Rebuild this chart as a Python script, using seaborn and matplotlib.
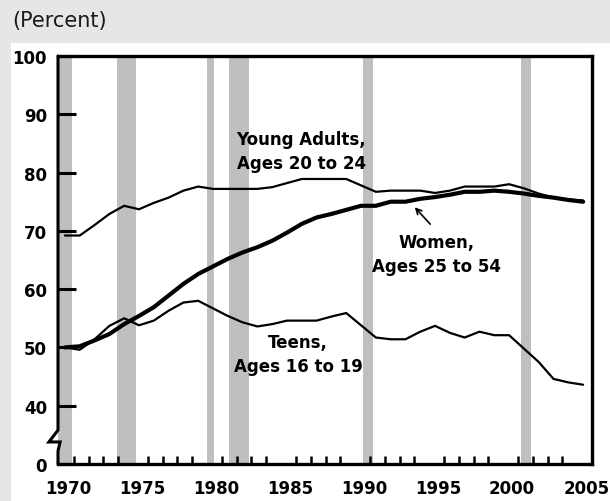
import numpy as np
import pandas as pd
import matplotlib
matplotlib.use('Agg')
import matplotlib.pyplot as plt
import matplotlib.transforms as mtransforms
import seaborn as sns
from matplotlib.patches import Rectangle

# --- datos (porcentaje, promedio anual) ---
years = list(range(1970, 2006))

young_adults = [69.2, 69.2, 71.0, 72.9, 74.3, 73.7, 74.8, 75.7, 76.9, 77.6,
                77.2, 77.2, 77.2, 77.2, 77.5, 78.2, 78.9, 78.9, 78.9, 78.9,
                77.8, 76.7, 76.9, 76.9, 76.9, 76.5, 76.9, 77.6, 77.6, 77.6,
                78.0, 77.3, 76.4, 75.7, 75.4, 75.2]

women = [50.0, 50.2, 51.2, 52.3, 54.0, 55.4, 56.9, 58.9, 60.9, 62.6,
         63.9, 65.2, 66.3, 67.2, 68.3, 69.7, 71.2, 72.3, 72.9, 73.6,
         74.3, 74.3, 75.0, 75.0, 75.5, 75.8, 76.2, 76.7, 76.7, 76.9,
         76.7, 76.4, 76.0, 75.7, 75.3, 75.0]

teens = [50.0, 49.6, 51.4, 53.7, 55.0, 53.8, 54.6, 56.3, 57.7, 58.0,
         56.7, 55.4, 54.3, 53.6, 54.0, 54.6, 54.6, 54.6, 55.3, 55.9,
         53.8, 51.7, 51.4, 51.4, 52.7, 53.7, 52.5, 51.7, 52.7, 52.1,
         52.1, 49.8, 47.5, 44.6, 44.0, 43.6]

# recesiones (inicio, fin)
recessions = [(1969.95, 1970.9), (1973.9, 1975.2), (1980.0, 1980.5),
              (1981.5, 1982.85), (1990.5, 1991.2), (2001.2, 2001.9)]

y_ticks = [30, 40, 50, 60, 70, 80, 90, 100]
y_tick_labels = ['0', '40', '50', '60', '70', '80', '90', '100']
x_ticks = [1970, 1975, 1980, 1985, 1990, 1995, 2000, 2005]

df = pd.DataFrame({
    'Year': years * 3,
    'Rate': young_adults + women + teens,
    'Group': ['young'] * len(years) + ['women'] * len(years) + ['teens'] * len(years),
})
# los puntos anuales se dibujan a mitad de año aprox.
df['X'] = df['Year'] + 0.4

sns.set_style('white')
plt.rcParams['font.family'] = ['DejaVu Sans']
plt.rcParams['text.color'] = 'black'
plt.rcParams['xtick.color'] = 'black'
plt.rcParams['ytick.color'] = 'black'

fig = plt.figure(figsize=(6.1, 5.02), dpi=100, facecolor='#e6e6e6')
fondo = Rectangle((11 / 610, 0), 1 - 11 / 610, 1 - 44 / 502,
                  transform=fig.transFigure, facecolor='white',
                  edgecolor='none', zorder=-10)
fig.add_artist(fondo)
fig.text(12 / 610, 1 - 21 / 502, '(Percent)', fontsize=15, ha='left',
         va='center', color='#1a1a1a')

ax = fig.add_axes([58 / 610, 37 / 502, 534 / 610, 408 / 502])
ax.set_facecolor('white')
ax.set_axisbelow(False)

for start, end in recessions:
    ax.axvspan(start, end, color='#bfbfbf', lw=0, zorder=1)

sns.lineplot(data=df, x='X', y='Rate', hue='Group', size='Group',
             sizes={'young': 1.6, 'women': 3.0, 'teens': 1.6},
             palette={'young': 'black', 'women': 'black', 'teens': 'black'},
             legend=False, ax=ax, zorder=3)

ax.set_xlim(1969.93, 2006.0)
ax.set_ylim(30, 100)
ax.set_xlabel('')
ax.set_ylabel('')

ax.set_yticks(y_ticks)
ax.set_yticklabels(y_tick_labels)
ax.set_xticks(x_ticks)
ax.set_xticks(years, minor=True)
ax.tick_params(axis='both', which='major', direction='in', length=13,
               width=2.2, labelsize=12, color='black', labelcolor='black')
ax.tick_params(axis='x', which='major', pad=11)
ax.tick_params(axis='y', which='major', pad=8, left=True)
ax.tick_params(axis='x', which='minor', direction='in', length=6, width=1.8,
               bottom=True)
desplaza = mtransforms.ScaledTranslation(9 / 100, 0, fig.dpi_scale_trans)
for lbl in ax.get_xticklabels():
    lbl.set_fontweight('bold')
    lbl.set_transform(lbl.get_transform() + desplaza)
for lbl in ax.get_yticklabels():
    lbl.set_fontweight('bold')

for side in ['top', 'right', 'bottom']:
    ax.spines[side].set_linewidth(2.4)
    ax.spines[side].set_color('black')
    ax.spines[side].set_zorder(5)
ax.spines['left'].set_visible(False)

# eje izquierdo con el corte
ax.plot([0, 0, -0.017, 0.004, 0, 0], [1, 0.083, 0.054, 0.054, 0.032, 0],
        transform=ax.transAxes, color='black', lw=2.2, clip_on=False,
        solid_joinstyle='miter', zorder=6)

ax.text(1986.35, 83.7, 'Young Adults,\nAges 20 to 24', ha='center', va='center',
        fontsize=12, fontweight='bold', linespacing=1.4, zorder=4)
ax.text(1995.47, 66.0, 'Women,\nAges 25 to 54', ha='center', va='center',
        fontsize=12, fontweight='bold', linespacing=1.4, zorder=4)
ax.text(1986.15, 48.9, 'Teens,\nAges 16 to 19', ha='center', va='center',
        fontsize=12, fontweight='bold', linespacing=1.4, zorder=4)
ax.annotate('', xy=(1993.9, 74.4), xytext=(1995.2, 70.8),
            arrowprops=dict(arrowstyle='->', color='black', lw=1.2,
                            mutation_scale=10), zorder=4)

plt.savefig('out.png', dpi=100, facecolor=fig.get_facecolor())
